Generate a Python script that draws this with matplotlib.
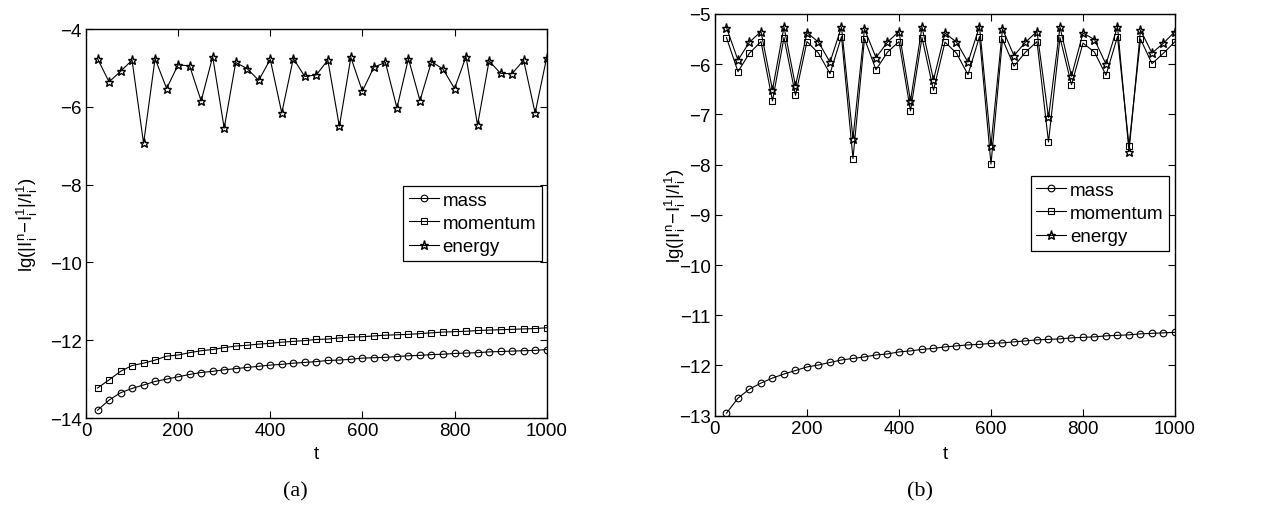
import matplotlib
matplotlib.use("Agg")
import matplotlib.pyplot as plt
import numpy as np

plt.rcParams["font.family"] = ["Liberation Sans", "DejaVu Sans"]
plt.rcParams["mathtext.default"] = "regular"

t = np.arange(25, 1001, 25)

# panel (a)
mass_a = [-13.80, -13.54, -13.35, -13.24, -13.15, -13.06, -13.00, -12.94, -12.88, -12.83,
          -12.80, -12.76, -12.73, -12.70, -12.67, -12.64, -12.62, -12.59, -12.57, -12.55,
          -12.52, -12.51, -12.49, -12.46, -12.45, -12.44, -12.42, -12.40, -12.39, -12.37,
          -12.36, -12.34, -12.33, -12.32, -12.30, -12.29, -12.28, -12.27, -12.26, -12.24]
momentum_a = [-13.23, -13.02, -12.80, -12.65, -12.59, -12.51, -12.41, -12.38, -12.32, -12.27,
              -12.24, -12.19, -12.15, -12.13, -12.10, -12.08, -12.05, -12.03, -12.01, -11.98,
              -11.97, -11.94, -11.92, -11.91, -11.89, -11.87, -11.86, -11.85, -11.83, -11.81,
              -11.79, -11.78, -11.77, -11.75, -11.74, -11.73, -11.72, -11.71, -11.70, -11.68]
energy_a = [-4.76, -5.36, -5.09, -4.80, -6.94, -4.76, -5.53, -4.92, -4.95, -5.85,
            -4.71, -6.55, -4.86, -5.02, -5.32, -4.78, -6.16, -4.76, -5.22, -5.18,
            -4.80, -6.50, -4.73, -5.60, -4.98, -4.86, -6.03, -4.76, -5.84, -4.84,
            -5.03, -5.53, -4.71, -6.47, -4.82, -5.14, -5.15, -4.80, -6.16, -4.74]

# panel (b)
mass_b = [-12.95, -12.65, -12.47, -12.35, -12.25, -12.17, -12.10, -12.03, -11.99, -11.94,
          -11.89, -11.86, -11.83, -11.79, -11.77, -11.73, -11.71, -11.68, -11.66, -11.63,
          -11.61, -11.59, -11.58, -11.56, -11.55, -11.53, -11.51, -11.49, -11.48, -11.47,
          -11.45, -11.44, -11.43, -11.41, -11.40, -11.39, -11.37, -11.36, -11.35, -11.34]
momentum_b = [-5.47, -6.15, -5.78, -5.55, -6.73, -5.47, -6.62, -5.55, -5.78, -6.19,
              -5.45, -7.88, -5.49, -6.11, -5.76, -5.55, -6.93, -5.47, -6.52, -5.56,
              -5.78, -6.21, -5.45, -7.99, -5.50, -6.04, -5.76, -5.55, -7.55, -5.47,
              -6.41, -5.58, -5.76, -6.22, -5.45, -7.62, -5.50, -5.99, -5.78, -5.55]
energy_b = [-5.27, -5.92, -5.56, -5.35, -6.51, -5.26, -6.43, -5.37, -5.56, -5.96,
            -5.26, -7.48, -5.30, -5.87, -5.56, -5.35, -6.73, -5.26, -6.31, -5.38,
            -5.56, -5.96, -5.25, -7.62, -5.30, -5.83, -5.56, -5.35, -7.06, -5.26,
            -6.24, -5.38, -5.51, -6.00, -5.25, -7.74, -5.32, -5.78, -5.58, -5.35]

YLABEL = r"lg($|I_i^n\!-\!I_i^1|/I_i^1$)"
FS = 13.5


def draw_panel(ax, mass, momentum, energy, ylim, yticks, legend_anchor, label_x, xlabel_y):
    base = dict(color="black", linewidth=0.8, markerfacecolor="none")
    ax.plot(t, mass, marker="o", markersize=4.8, markeredgewidth=0.8, label="mass", **base)
    ax.plot(t, momentum, marker="s", markersize=4.3, markeredgewidth=0.8,
            label="momentum", **base)
    ax.plot(t, energy, marker="*", markersize=6.8, markeredgewidth=1.0,
            label="energy", **base)
    ax.set_xlim(0, 1000)
    ax.set_ylim(*ylim)
    ax.set_xticks(range(0, 1001, 200))
    ax.set_yticks(yticks)
    ax.tick_params(direction="in", top=True, right=True, labelsize=FS, length=5, pad=3)
    for spine in ax.spines.values():
        spine.set_linewidth(1.0)
    ax.set_xlabel("t", fontsize=FS)
    ax.set_ylabel(YLABEL, fontsize=FS)
    ax.yaxis.set_label_coords(label_x, 0.5)
    ax.xaxis.set_label_coords(0.5, xlabel_y)
    leg = ax.legend(loc="upper right", bbox_to_anchor=legend_anchor, fontsize=FS,
                    frameon=True, fancybox=False, edgecolor="black", framealpha=1,
                    borderaxespad=0, handlelength=1.6, handletextpad=0.18,
                    labelspacing=0.33, borderpad=0.3)
    leg.get_frame().set_linewidth(0.9)


fig = plt.figure(figsize=(12.61, 5.06), dpi=100)
ax_a = fig.add_axes([0.0682, 0.1719, 0.3653, 0.7688])
ax_b = fig.add_axes([0.5670, 0.1765, 0.3648, 0.7939])

draw_panel(ax_a, mass_a, momentum_a, energy_a, (-14, -4), range(-14, -3, 2),
           (0.989, 0.597), -0.100, -0.069)
draw_panel(ax_b, mass_b, momentum_b, energy_b, (-13, -5), range(-13, -4),
           (0.987, 0.597), -0.059, -0.073)

fig.text(295 / 1261, 1 - 492 / 506, "(a)", ha="center", va="center",
         fontsize=16, family="Liberation Serif")
fig.text(920 / 1261, 1 - 492 / 506, "(b)", ha="center", va="center",
         fontsize=16, family="Liberation Serif")

fig.savefig("out.png", dpi=100)
